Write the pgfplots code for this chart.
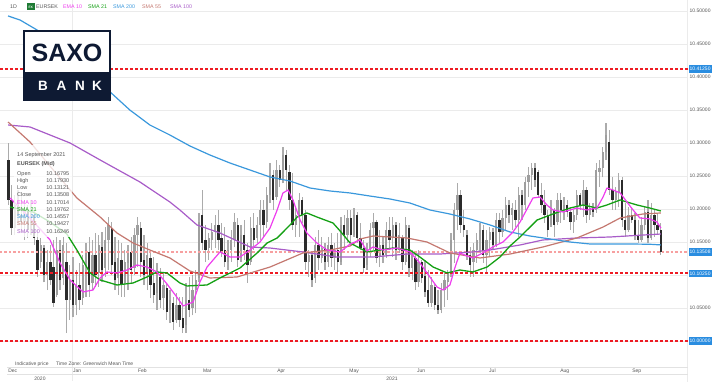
\documentclass[border=0pt]{standalone}
\usepackage{fontspec}
\setmainfont{Liberation Sans}
\usepackage{pgfplots}
\pgfplotsset{compat=1.18}
\usepackage{pgfplotstable}
\definecolor{ema}{HTML}{EE3EEE}
\definecolor{smaA}{HTML}{14A014}
\definecolor{smaB}{HTML}{3A98DC}
\definecolor{smaC}{HTML}{C47870}
\definecolor{smaD}{HTML}{A85CC8}
\definecolor{lvl}{HTML}{EE1C24}
\definecolor{lvlpale}{HTML}{F7A0A0}
\definecolor{tagblue}{HTML}{2A8DE0}
\definecolor{navy}{HTML}{0E1A33}
\definecolor{gridc}{HTML}{EBEBEB}
\definecolor{bandc}{HTML}{E2E2E2}
\definecolor{wick}{HTML}{ABABAB}
\definecolor{upc}{HTML}{9E9E9E}
\definecolor{dnc}{HTML}{2B2B2B}
\definecolor{txt}{HTML}{555555}
\definecolor{fxg}{HTML}{1E7B34}
\newcommand{\fs}[1]{\fontsize{#1}{#1}\selectfont}
\pgfplotstableread{
x h l o c
3 10.300 10.206 10.274 10.214
4 10.236 10.161 10.214 10.171
5 10.221 10.161 10.171 10.206
6 10.229 10.176 10.206 10.191
7 10.221 10.165 10.191 10.180
8 10.214 10.153 10.180 10.199
9 10.206 10.156 10.199 10.168
10 10.214 10.161 10.168 10.191
11 10.199 10.146 10.191 10.156
12 10.165 10.097 10.153 10.108
13 10.156 10.111 10.120 10.146
14 10.146 10.089 10.141 10.100
15 10.138 10.077 10.100 10.120
16 10.146 10.085 10.120 10.092
17 10.153 10.052 10.112 10.058
18 10.158 10.067 10.070 10.138
19 10.153 10.077 10.138 10.092
20 10.158 10.085 10.095 10.146
21 10.149 10.012 10.120 10.062
22 10.115 10.032 10.062 10.092
23 10.127 10.036 10.092 10.055
24 10.108 10.039 10.055 10.085
25 10.118 10.047 10.085 10.062
26 10.130 10.055 10.065 10.115
27 10.149 10.067 10.115 10.138
28 10.158 10.067 10.135 10.085
29 10.153 10.077 10.088 10.130
30 10.164 10.082 10.130 10.100
31 10.161 10.082 10.103 10.146
32 10.165 10.089 10.142 10.108
33 10.173 10.097 10.111 10.153
34 10.188 10.108 10.153 10.176
35 10.180 10.100 10.171 10.115
36 10.158 10.077 10.120 10.092
37 10.153 10.070 10.095 10.126
38 10.149 10.067 10.123 10.085
39 10.138 10.067 10.088 10.120
40 10.146 10.077 10.118 10.138
41 10.158 10.088 10.135 10.108
42 10.171 10.100 10.111 10.161
43 10.188 10.112 10.161 10.176
44 10.180 10.097 10.171 10.120
45 10.161 10.085 10.123 10.100
46 10.149 10.077 10.105 10.130
47 10.138 10.065 10.126 10.085
48 10.127 10.058 10.088 10.070
49 10.118 10.047 10.073 10.100
50 10.111 10.050 10.097 10.062
51 10.103 10.047 10.065 10.085
52 10.088 10.032 10.080 10.044
53 10.077 10.027 10.047 10.062
54 10.067 10.017 10.058 10.029
55 10.073 10.027 10.032 10.055
56 10.067 10.021 10.055 10.032
57 10.067 10.012 10.035 10.020
58 10.088 10.012 10.024 10.062
59 10.097 10.036 10.062 10.047
60 10.100 10.039 10.050 10.077
61 10.108 10.042 10.077 10.092
62 10.194 10.089 10.095 10.180
63 10.229 10.138 10.191 10.149
64 10.176 10.120 10.153 10.138
65 10.164 10.123 10.141 10.156
66 10.179 10.138 10.153 10.165
67 10.191 10.141 10.165 10.176
68 10.199 10.138 10.176 10.153
69 10.179 10.127 10.156 10.135
70 10.173 10.112 10.138 10.120
71 10.153 10.108 10.120 10.138
72 10.168 10.120 10.138 10.153
73 10.194 10.142 10.153 10.180
74 10.187 10.112 10.176 10.123
75 10.176 10.120 10.126 10.161
76 10.183 10.123 10.161 10.138
77 10.149 10.088 10.138 10.115
78 10.188 10.115 10.120 10.171
79 10.194 10.138 10.171 10.153
80 10.188 10.149 10.156 10.176
81 10.214 10.153 10.176 10.199
82 10.214 10.158 10.199 10.176
83 10.233 10.171 10.180 10.221
84 10.270 10.209 10.221 10.252
85 10.259 10.199 10.252 10.214
86 10.274 10.214 10.218 10.259
87 10.267 10.233 10.259 10.244
88 10.294 10.239 10.244 10.282
89 10.289 10.229 10.282 10.259
90 10.267 10.199 10.256 10.214
91 10.255 10.168 10.214 10.176
92 10.203 10.158 10.176 10.191
93 10.224 10.158 10.191 10.214
94 10.218 10.179 10.214 10.191
95 10.199 10.108 10.191 10.120
96 10.138 10.097 10.120 10.130
97 10.133 10.082 10.130 10.092
98 10.158 10.088 10.095 10.146
99 10.168 10.108 10.146 10.126
100 10.158 10.118 10.126 10.141
101 10.149 10.108 10.141 10.120
102 10.158 10.112 10.120 10.146
103 10.164 10.112 10.146 10.126
104 10.149 10.108 10.126 10.138
105 10.164 10.103 10.138 10.120
106 10.188 10.115 10.120 10.176
107 10.191 10.138 10.176 10.161
108 10.199 10.149 10.161 10.186
109 10.199 10.146 10.186 10.161
110 10.202 10.158 10.161 10.191
111 10.196 10.149 10.191 10.156
112 10.179 10.138 10.156 10.141
113 10.153 10.103 10.141 10.111
114 10.149 10.108 10.115 10.138
115 10.179 10.127 10.138 10.168
116 10.194 10.138 10.171 10.180
117 10.183 10.118 10.180 10.126
118 10.168 10.112 10.129 10.146
119 10.158 10.118 10.146 10.130
120 10.180 10.126 10.130 10.168
121 10.188 10.138 10.168 10.153
122 10.188 10.127 10.156 10.176
123 10.180 10.123 10.176 10.138
124 10.179 10.133 10.138 10.161
125 10.161 10.108 10.158 10.120
126 10.188 10.115 10.120 10.176
127 10.176 10.097 10.171 10.111
128 10.138 10.092 10.111 10.130
129 10.133 10.077 10.126 10.089
130 10.138 10.082 10.089 10.120
131 10.123 10.088 10.120 10.095
132 10.123 10.067 10.098 10.074
133 10.108 10.052 10.077 10.058
134 10.097 10.052 10.058 10.085
135 10.088 10.047 10.082 10.055
136 10.077 10.041 10.055 10.047
137 10.088 10.042 10.047 10.077
138 10.103 10.052 10.077 10.092
139 10.108 10.062 10.089 10.105
140 10.164 10.097 10.105 10.153
141 10.209 10.118 10.153 10.199
142 10.239 10.168 10.199 10.221
143 10.229 10.164 10.221 10.176
144 10.199 10.158 10.176 10.168
145 10.168 10.123 10.161 10.130
146 10.142 10.097 10.130 10.115
147 10.149 10.097 10.120 10.138
148 10.164 10.118 10.138 10.153
149 10.179 10.133 10.153 10.168
150 10.176 10.118 10.168 10.130
151 10.168 10.103 10.130 10.153
152 10.173 10.127 10.153 10.165
153 10.171 10.138 10.165 10.146
154 10.194 10.142 10.146 10.183
155 10.194 10.149 10.183 10.165
156 10.199 10.158 10.165 10.186
157 10.218 10.168 10.186 10.206
158 10.214 10.179 10.206 10.191
159 10.209 10.168 10.191 10.202
160 10.214 10.173 10.199 10.183
161 10.233 10.158 10.183 10.221
162 10.229 10.183 10.221 10.206
163 10.248 10.199 10.206 10.241
164 10.264 10.218 10.241 10.252
165 10.270 10.229 10.252 10.262
166 10.270 10.233 10.262 10.244
167 10.259 10.218 10.256 10.221
168 10.239 10.194 10.221 10.206
169 10.229 10.179 10.206 10.191
170 10.199 10.158 10.191 10.168
171 10.214 10.173 10.176 10.199
172 10.202 10.158 10.199 10.176
173 10.224 10.176 10.180 10.214
174 10.224 10.179 10.214 10.199
175 10.218 10.183 10.199 10.206
176 10.214 10.188 10.206 10.196
177 10.203 10.168 10.196 10.180
178 10.199 10.164 10.180 10.191
179 10.229 10.183 10.191 10.221
180 10.224 10.199 10.221 10.206
181 10.244 10.188 10.206 10.229
182 10.233 10.179 10.229 10.191
183 10.209 10.183 10.191 10.202
184 10.209 10.188 10.202 10.196
185 10.270 10.194 10.199 10.259
186 10.274 10.233 10.256 10.262
187 10.294 10.248 10.262 10.286
188 10.330 10.274 10.286 10.312
189 10.320 10.221 10.302 10.229
190 10.248 10.199 10.229 10.214
191 10.233 10.199 10.214 10.226
192 10.255 10.203 10.226 10.244
193 10.248 10.173 10.244 10.183
194 10.209 10.158 10.183 10.168
195 10.203 10.165 10.168 10.191
196 10.203 10.179 10.191 10.183
197 10.194 10.153 10.183 10.161
198 10.183 10.149 10.161 10.153
199 10.188 10.150 10.153 10.176
200 10.203 10.168 10.176 10.196
201 10.214 10.149 10.196 10.156
202 10.209 10.153 10.156 10.191
203 10.199 10.158 10.191 10.176
204 10.194 10.161 10.176 10.168
205 10.179 10.131 10.168 10.135
}\candles
\begin{document}
\begin{tikzpicture}
\useasboundingbox (0pt,0pt) rectangle (720pt,390pt);
\begin{scope}[x=1pt,y=1pt]
\draw[gridc, line width=0.8pt] (72,9) -- (72,390);
\draw[gridc, line width=0.8pt] (687.5,8) -- (687.5,390);
\draw[bandc, line width=0.8pt] (7,23) -- (688,23);
\draw[bandc, line width=0.8pt] (7,15.5) -- (688,15.5);
\end{scope}
\begin{axis}[
  at={(0pt,28pt)}, anchor=south west,
  width=688pt, height=362pt, scale only axis,
  xmin=0.4, xmax=213.4, ymin=9.9682, ymax=10.5167,
  axis line style={draw=none},
  tick style={draw=none}, major tick length=0pt,
  ytick={10,10.05,10.1,10.15,10.2,10.25,10.3,10.35,10.4,10.45,10.5},
  yticklabels={,10.05000,,10.15000,10.20000,10.25000,10.30000,10.35000,10.40000,10.45000,10.50000},
  yticklabel pos=right,
  yticklabel style={font=\fs{5}, text=txt, anchor=west, inner sep=1.5pt},
  ymajorgrids, grid style={draw=gridc, line width=0.8pt},
  xtick={2.9,23,43.1,63.2,86.2,108.5,129.5,151.8,173.8,196.1},
  xticklabels={Dec,Jan,Feb,Mar,Apr,May,Jun,Jul,Aug,Sep},
  xticklabel style={font=\fs{5}, text=txt, anchor=west, inner sep=0pt, yshift=-9pt},
]
% wicks
\addplot[draw=none, mark=none, error bars/.cd, y dir=plus, y explicit, error mark=none,
  error bar style={draw=wick, line width=1.2pt, solid}]
  table[x=x, y=l, y error expr={\thisrow{h}-\thisrow{l}}] {\candles};
% up bodies (zero length when the candle is down)
\addplot[draw=none, mark=none, error bars/.cd, y dir=plus, y explicit, error mark=none,
  error bar style={draw=upc, line width=2.3pt, solid}]
  table[x=x, y=o, y error expr={max(\thisrow{c}-\thisrow{o},0)}] {\candles};
% down bodies (zero length when the candle is up)
\addplot[draw=none, mark=none, error bars/.cd, y dir=plus, y explicit, error mark=none,
  error bar style={draw=dnc, line width=2.3pt, solid}]
  table[x=x, y=c, y error expr={max(\thisrow{o}-\thisrow{c},0)}] {\candles};
% horizontal levels
\addplot[lvl, line width=1.8pt, dash pattern=on 3pt off 2pt] coordinates {(0.4,10.4125) (213.4,10.4125)};
\addplot[lvl, line width=2.2pt, dash pattern=on 3pt off 2pt] coordinates {(0.4,10.1025) (213.4,10.1025)};
\addplot[lvl, line width=1.8pt, dash pattern=on 3pt off 2pt] coordinates {(0.4,10.0) (213.4,10.0)};
\addplot[lvlpale, line width=1.4pt, dash pattern=on 2.5pt off 2pt] coordinates {(0.4,10.13508) (213.4,10.13508)};
% SMA 100
\addplot[smaD, line width=1.2pt, line join=round] coordinates {
(2.9,10.3273) (9.7,10.3243) (22.1,10.3000) (31.4,10.2743) (43.7,10.2410) (53.0,10.2106) (56.1,10.1985) (61.4,10.1758) (68.5,10.1637) (77.8,10.1425) (84.0,10.1409) (94.2,10.1349) (104.7,10.1273) (115.9,10.1273) (126.4,10.1318) (136.6,10.1318) (146.8,10.1349) (152.1,10.1379) (161.4,10.1455) (168.5,10.1531) (179.0,10.1561) (189.3,10.1576) (199.5,10.1606) (205,10.1621)};
% SMA 55
\addplot[smaC, line width=1.2pt, line join=round] coordinates {
(2.9,10.3318) (9.7,10.3015) (17.4,10.2561) (24.2,10.2167) (31.4,10.1879) (36.6,10.1637) (41.6,10.1485) (46.8,10.1379) (53.0,10.1258) (59.2,10.1061) (65.4,10.0955) (73.8,10.0970) (84.0,10.1121) (94.2,10.1334) (102.6,10.1379) (108.8,10.1440) (111.9,10.1546) (115.9,10.1591) (126.4,10.1561) (132.6,10.1500) (139.7,10.1334) (149.0,10.1258) (158.3,10.1318) (168.5,10.1425) (179.0,10.1561) (187.1,10.1727) (192.4,10.1864) (199.5,10.1925) (205,10.1940)};
% SMA 200
\addplot[smaB, line width=1.2pt, line join=round] coordinates {
(2.9,10.4925) (6.6,10.4864) (11.9,10.4712) (19.0,10.4409) (25.2,10.4152) (31.4,10.3909) (34.5,10.3773) (40.6,10.3500) (46.8,10.3273) (53.0,10.3121) (59.2,10.2955) (65.4,10.2818) (71.6,10.2697) (77.8,10.2591) (84.0,10.2485) (90.2,10.2424) (96.4,10.2318) (102.6,10.2273) (108.8,10.2243) (114.9,10.2197) (121.1,10.2152) (127.3,10.2091) (133.5,10.1985) (139.7,10.1924) (145.9,10.1849) (152.1,10.1758) (158.3,10.1652) (164.5,10.1591) (170.7,10.1546) (176.9,10.1500) (183.1,10.1470) (189.3,10.1470) (195.4,10.1470) (201.6,10.1466) (205,10.1456)};
% SMA 21
\addplot[smaA, line width=1.3pt, line join=round] coordinates {
(3.5,10.2031) (10.6,10.1955) (15.9,10.1803) (21.1,10.1621) (24.2,10.1379) (28.3,10.1031) (31.4,10.0925) (36.6,10.0849) (41.6,10.0879) (45.9,10.0970) (49.0,10.1046) (52.1,10.1031) (56.1,10.0879) (58.3,10.0834) (64.5,10.0849) (68.5,10.0955) (74.7,10.1106) (80.0,10.1334) (83.1,10.1485) (86.2,10.1561) (90.2,10.1758) (92.4,10.1879) (95.4,10.1940) (98.5,10.1879) (103.5,10.1788) (105.7,10.1667) (108.8,10.1485) (114.0,10.1349) (122.1,10.1409) (127.3,10.1379) (130.4,10.1273) (134.5,10.1121) (138.8,10.1031) (142.8,10.1076) (146.8,10.1046) (151.2,10.1121) (155.2,10.1273) (158.3,10.1440) (161.4,10.1576) (166.7,10.1834) (171.6,10.1925) (176.9,10.2015) (180.9,10.2061) (185.2,10.2015) (188.3,10.2061) (192.4,10.2137) (197.6,10.2061) (201.6,10.2015) (205,10.1970)};
% EMA 10
\addplot[ema, line width=1.2pt, line join=round] coordinates {
(3.5,10.2167) (9.7,10.1864) (15.9,10.1531) (19.0,10.1182) (22.1,10.0925) (26.1,10.0743) (29.2,10.0773) (31.4,10.0955) (33.5,10.1046) (36.6,10.1031) (39.7,10.1076) (42.8,10.1152) (45.9,10.1121) (49.0,10.1046) (52.1,10.0864) (54.9,10.0682) (57.1,10.0531) (60.2,10.0591) (62.3,10.0894) (64.5,10.1121) (68.5,10.1349) (71.6,10.1273) (74.7,10.1273) (77.8,10.1379) (80.9,10.1500) (84.0,10.1712) (86.2,10.1985) (88.0,10.2243) (89.6,10.2288) (91.1,10.2137) (93.3,10.1834) (95.4,10.1637) (98.5,10.1485) (101.6,10.1379) (105.7,10.1349) (108.8,10.1470) (111.9,10.1531) (114.0,10.1364) (115.9,10.1425) (119.0,10.1379) (123.3,10.1409) (127.3,10.1349) (130.4,10.1182) (133.5,10.0970) (135.7,10.0818) (137.6,10.0773) (139.7,10.0849) (141.3,10.1121) (142.8,10.1334) (145.0,10.1288) (146.8,10.1258) (149.9,10.1334) (153.0,10.1425) (156.1,10.1500) (159.2,10.1652) (161.4,10.1803) (165.4,10.2167) (167.6,10.2182) (169.7,10.2061) (171.6,10.1985) (174.7,10.1955) (179.0,10.2015) (182.1,10.1985) (185.2,10.2015) (187.1,10.2182) (188.3,10.2318) (190.2,10.2288) (192.4,10.2243) (194.5,10.2106) (196.4,10.1985) (198.5,10.1864) (201.6,10.1849) (203.8,10.1803) (205,10.1712)};
\end{axis}
\begin{scope}[x=1pt,y=1pt]
% right tags
\foreach \yy/\lab in {321.2/10.41250, 138.1/10.13508, 116.7/10.10250, 48.9/10.00000}{
  \node[fill=tagblue, text=white, font=\fs{5}, anchor=west, inner xsep=1pt, inner ysep=0pt, minimum height=7.5pt] at (688.5,\yy) {\lab};
}
% tooltip
\fill[white, opacity=0.78] (14,153) rectangle (72,245);
\node[anchor=base west, inner sep=0, font=\fs{5.5}, text=txt] at (17,233) {14 September 2021};
\node[anchor=base west, inner sep=0, font=\fs{5.5}\bfseries, text=txt] at (17,224) {EURSEK (Mid)};
\foreach \yy/\lab/\val/\col in {214.7/Open/10.16795/txt, 207.7/High/10.17930/txt, 200.3/Low/10.13121/txt, 193/Close/10.13508/txt, 185.7/EMA 10/10.17014/ema, 178.7/SMA 21/10.19762/smaA, 171/SMA 200/10.14557/smaB, 164/SMA 55/10.19427/smaC, 156.7/SMA 100/10.16246/smaD}{
  \node[anchor=base west, inner sep=0, font=\fs{5.5}, text=\col] at (17,\yy) {\lab};
  \node[anchor=base east, inner sep=0, font=\fs{5.5}, text=txt] at (69.5,\yy) {\val};
}
% logo
\fill[white] (24,290) rectangle (110,359);
\fill[navy] (24,290) rectangle (110,318);
\draw[navy, line width=1.6pt] (24,290) rectangle (110,359);
\node[font=\fs{25}\bfseries, text=navy, inner sep=0] at (67,337.5) {SAXO};
\foreach \xx/\ll in {43/B, 61.5/A, 80/N, 97/K}{
  \node[font=\fs{13.5}\bfseries, text=white, inner sep=0] at (\xx,304) {\ll};
}
% header
\node[anchor=west, inner sep=0, font=\fs{5.3}, text=txt] at (10,383) {1D};
\fill[fxg] (27,379.5) rectangle (34.5,386.5);
\node[inner sep=0, font=\fs{3.3}\bfseries, text=white] at (30.75,383) {FX};
\node[anchor=west, inner sep=0, font=\fs{5.3}, text=txt] at (36,383) {EURSEK};
\node[anchor=west, inner sep=0, font=\fs{5.3}, text=ema] at (63,383) {EMA 10};
\node[anchor=west, inner sep=0, font=\fs{5.3}, text=smaA] at (88,383) {SMA 21};
\node[anchor=west, inner sep=0, font=\fs{5.3}, text=smaB] at (113,383) {SMA 200};
\node[anchor=west, inner sep=0, font=\fs{5.3}, text=smaC] at (142,383) {SMA 55};
\node[anchor=west, inner sep=0, font=\fs{5.3}, text=smaD] at (170,383) {SMA 100};
% bottom
\node[anchor=west, inner sep=0, font=\fs{5}, text=txt] at (15,26) {Indicative price};
\node[anchor=west, inner sep=0, font=\fs{5}, text=txt] at (56,26) {Time Zone: Greenwich Mean Time};
\node[inner sep=0, font=\fs{5}, text=txt] at (40,11.5) {2020};
\node[inner sep=0, font=\fs{5}, text=txt] at (392,11.5) {2021};
\end{scope}
\end{tikzpicture}
\end{document}
